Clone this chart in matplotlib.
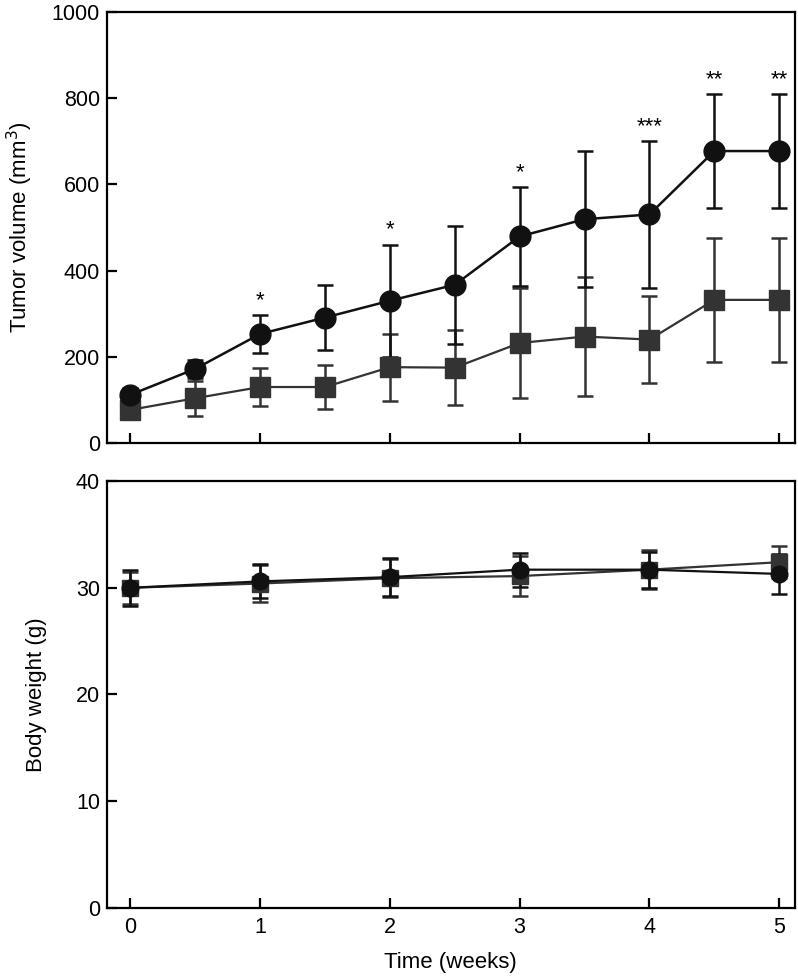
import matplotlib
matplotlib.use("Agg")
import matplotlib.pyplot as plt

plt.rcParams["font.family"] = ["Liberation Sans", "DejaVu Sans"]
plt.rcParams["font.size"] = 15.5

# tumor volume, measured twice a week
weeks_tv = [0, 0.5, 1, 1.5, 2, 2.5, 3, 3.5, 4, 4.5, 5]
tv_circle = [112, 172, 253, 291, 330, 367, 479, 519, 530, 677, 677]
tv_circle_err = [15, 20, 43, 76, 130, 137, 114, 158, 170, 132, 132]
tv_square = [77, 104, 130, 130, 176, 175, 232, 247, 240, 332, 332]
tv_square_err = [10, 41, 44, 50, 78, 87, 128, 137, 101, 143, 143]

# significance marks above the circle series
star_weeks = [1, 2, 3, 4, 4.5, 5]
star_labels = ["*", "*", "*", "***", "**", "**"]

# body weight, weekly
weeks_bw = [0, 1, 2, 3, 4, 5]
bw_circle = [30.0, 30.6, 31.0, 31.7, 31.7, 31.3]
bw_circle_err = [1.7, 1.6, 1.8, 1.6, 1.7, 1.9]
bw_square = [30.0, 30.4, 30.9, 31.1, 31.7, 32.4]
bw_square_err = [1.5, 1.7, 1.8, 1.9, 1.8, 1.5]

fig = plt.figure(figsize=(7.98, 9.76), dpi=100)
ax1 = fig.add_axes([0.134, 0.546, 0.862, 0.442])
ax2 = fig.add_axes([0.134, 0.070, 0.862, 0.437])

sq_col = "#333333"
ci_col = "#111111"

# top panel
ax1.errorbar(weeks_tv, tv_square, yerr=tv_square_err, fmt="s-", color=sq_col,
             markersize=14, lw=1.6, elinewidth=1.8, capsize=6, capthick=1.8)
ax1.errorbar(weeks_tv, tv_circle, yerr=tv_circle_err, fmt="o-", color=ci_col,
             markersize=15, lw=1.8, elinewidth=1.8, capsize=6, capthick=1.8)
for w, lab in zip(star_weeks, star_labels):
    i = weeks_tv.index(w)
    top = tv_circle[i] + tv_circle_err[i]
    ax1.text(w, top + 10, lab, ha="center", va="bottom", fontsize=16)

ax1.set_xlim(-0.18, 5.12)
ax1.set_ylim(0, 1000)
ax1.set_yticks([0, 200, 400, 600, 800, 1000])
ax1.set_xticks([0, 1, 2, 3, 4, 5])
ax1.set_xticklabels([])
ax1.set_ylabel("Tumor volume (mm$^3$)", fontsize=16)
ax1.yaxis.set_label_coords(-0.105, 0.5)

# bottom panel
ax2.errorbar(weeks_bw, bw_square, yerr=bw_square_err, fmt="s-", color=sq_col,
             markersize=12, lw=1.6, elinewidth=1.8, capsize=6, capthick=1.8)
ax2.errorbar(weeks_bw, bw_circle, yerr=bw_circle_err, fmt="o-", color=ci_col,
             markersize=12, lw=1.6, elinewidth=1.8, capsize=6, capthick=1.8)
ax2.set_xlim(-0.18, 5.12)
ax2.set_ylim(0, 40)
ax2.set_yticks([0, 10, 20, 30, 40])
ax2.set_xticks([0, 1, 2, 3, 4, 5])
ax2.set_ylabel("Body weight (g)", fontsize=16)
ax2.yaxis.set_label_coords(-0.087, 0.5)
ax2.set_xlabel("Time (weeks)", fontsize=16)
ax2.xaxis.set_label_coords(0.5, -0.103)

for ax in (ax1, ax2):
    for s in ax.spines.values():
        s.set_linewidth(1.6)
    ax.tick_params(direction="in", length=7, width=1.6)
    ax.tick_params(axis="y", pad=5)
    ax.tick_params(axis="x", pad=7)

fig.savefig("out.png", dpi=100)
